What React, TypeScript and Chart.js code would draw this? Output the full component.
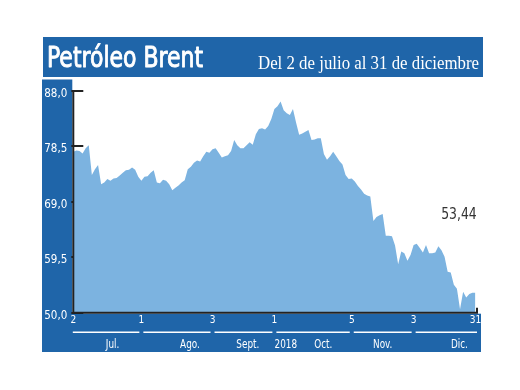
import React, { useEffect, useRef } from "react";
import { Chart, registerables } from "chart.js";

Chart.register(...registerables);

// ---------- data ----------
function tradingDays(start: string, end: string): string[] {
  const out: string[] = [];
  const d = new Date(start + "T00:00:00Z");
  const e = new Date(end + "T00:00:00Z");
  while (d <= e) {
    const wd = d.getUTCDay();
    if (wd !== 0 && wd !== 6) out.push(d.toISOString().slice(0, 10));
    d.setUTCDate(d.getUTCDate() + 1);
  }
  return out;
}
const dates = tradingDays("2018-07-02", "2018-12-31");

const brent = [
  77.6, 77.8, 77.7, 77.3, 78.2, 78.7, 73.6, 74.6, 75.3, 72.0,
  72.3, 72.9, 72.6, 73.0, 73.1, 73.5, 74.0, 74.4, 74.5, 74.9,
  74.5, 73.3, 72.6, 73.3, 73.4, 74.0, 74.4, 72.3, 72.2, 72.8,
  72.6, 72.0, 71.0, 71.4, 71.8, 72.3, 72.7, 74.6, 75.0, 75.7,
  76.1, 75.9, 76.8, 77.6, 77.4, 78.0, 78.2, 77.4, 76.6, 76.8,
  77.0, 77.7, 79.6, 78.7, 78.2, 78.2, 78.7, 79.2, 78.8, 80.6,
  81.5, 81.6, 81.4, 82.0, 83.2, 84.9, 85.4, 86.2, 84.7, 84.2,
  83.9, 84.9, 82.6, 80.5, 80.7, 81.0, 81.3, 79.6, 79.7, 79.9,
  79.9, 77.2, 76.2, 76.8, 77.6, 76.8, 76.0, 75.4, 73.6, 72.9,
  73.0, 72.5, 71.7, 71.1, 70.4, 70.1, 69.9, 65.7, 66.4, 66.7,
  66.9, 63.2, 63.2, 63.1, 61.5, 58.3, 60.5, 60.2, 58.9, 59.9,
  61.6, 61.8, 61.1, 60.3, 61.6, 60.2, 60.2, 60.3, 61.4, 60.7,
  59.6, 57.0, 56.9, 54.8, 54.1, 50.6, 53.6, 52.6, 53.2, 53.4,
  53.44,
];

const yMin = 50;
const yMax = 89.89;
const yTicks = [50, 59.5, 69, 78.5, 88];

const xTickDates = ["2018-07-02", "2018-08-01", "2018-09-03", "2018-10-01", "2018-11-05", "2018-12-03", "2018-12-31"];
const xTickLabels = ["2", "1", "3", "1", "5", "3", "31"];
const xTickIdx = xTickDates.map((d) => dates.indexOf(d));

const monthLabels = ["Jul.", "Ago.", "Sept.", "2018", "Oct.", "Nov.", "Dic."];
const monthLabelPos = [12.7, 37.7, 56.4, 68.7, 80.8, 100, 124.8];

const titleText = "Petróleo Brent";
const subtitleText = "Del 2 de julio al 31 de diciembre";
const lastValueLabel = "53,44";

// ---------- styles ----------
const BLUE = "#1f65a9";
const FILL = "#7cb3e0";
const AXIS = "#222222";
const COND = "'DejaVu Sans Condensed', 'DejaVu Sans', sans-serif";

function drawFitted(
  ctx: CanvasRenderingContext2D,
  text: string,
  font: string,
  x: number,
  y: number,
  width: number,
  align: "left" | "right" | "center",
  strokeW = 0
) {
  ctx.save();
  ctx.font = font;
  const w = ctx.measureText(text).width;
  const sx = width / w;
  let x0 = x;
  if (align === "right") x0 = x - width;
  if (align === "center") x0 = x - width / 2;
  ctx.translate(x0, y);
  ctx.scale(sx, 1);
  ctx.textAlign = "left";
  ctx.textBaseline = "alphabetic";
  ctx.fillText(text, 0, 0);
  if (strokeW > 0) {
    ctx.strokeStyle = ctx.fillStyle as string;
    ctx.lineWidth = strokeW;
    ctx.lineJoin = "round";
    ctx.strokeText(text, 0, 0);
  }
  ctx.restore();
}

function drawScaled(
  ctx: CanvasRenderingContext2D,
  text: string,
  font: string,
  x: number,
  y: number,
  sx: number
) {
  ctx.save();
  ctx.font = font;
  ctx.translate(x, y);
  ctx.scale(sx, 1);
  ctx.textAlign = "center";
  ctx.textBaseline = "alphabetic";
  ctx.fillText(text, 0, 0);
  ctx.restore();
}

const framePlugin = {
  id: "brentFrame",
  beforeDraw(chart: any) {
    const ctx: CanvasRenderingContext2D = chart.ctx;
    const a = chart.chartArea;
    ctx.save();
    ctx.fillStyle = "#ffffff";
    ctx.fillRect(0, 0, chart.width, chart.height);
    ctx.fillStyle = BLUE;
    // title bar
    ctx.fillRect(43, 37, 440, 40);
    // left column
    ctx.fillRect(42, a.top - 0.5, a.left - 42 - 1, 352 - a.top + 0.5);
    // bottom band
    ctx.fillRect(42, a.bottom + 1, a.right + 5.5 - 42, 352 - a.bottom - 1);
    ctx.fillStyle = "#ffffff";
    drawFitted(ctx, titleText, `29px ${COND}`, 47, 67, 156, "left", 0.9);
    drawFitted(ctx, subtitleText, "18px 'Liberation Serif', serif", 479, 68.5, 221, "right");
    ctx.restore();
  },
  beforeDatasetsDraw(chart: any) {
    const ctx: CanvasRenderingContext2D = chart.ctx;
    const a = chart.chartArea;
    const y = chart.scales.y;
    ctx.save();
    ctx.strokeStyle = AXIS;
    ctx.lineWidth = 2;
    yTicks.forEach((v) => {
      const py = Math.round(y.getPixelForValue(v));
      ctx.beginPath();
      ctx.moveTo(a.left - 2, py);
      ctx.lineTo(a.left + 10, py);
      ctx.stroke();
    });
    ctx.restore();
  },
  afterDatasetsDraw(chart: any) {
    const ctx: CanvasRenderingContext2D = chart.ctx;
    const a = chart.chartArea;
    const x = chart.scales.x;
    const y = chart.scales.y;
    ctx.save();
    // axis lines
    ctx.strokeStyle = AXIS;
    ctx.lineWidth = 2;
    const topY = y.getPixelForValue(yTicks[yTicks.length - 1]) - 1;
    ctx.beginPath();
    ctx.moveTo(a.left, topY);
    ctx.lineTo(a.left, a.bottom + 1);
    ctx.moveTo(a.left - 1, a.bottom);
    ctx.lineTo(a.right + 2.5, a.bottom);
    ctx.moveTo(a.right + 1.5, a.bottom);
    ctx.lineTo(a.right + 1.5, a.bottom - 5);
    ctx.stroke();

    // underline segments between ticks
    ctx.strokeStyle = "#ffffff";
    ctx.lineWidth = 1.5;
    const uy = a.bottom + 19.5;
    for (let i = 0; i < xTickIdx.length - 1; i++) {
      const x0 = x.getPixelForValue(xTickIdx[i]) + (i === 0 ? -0.5 : 2);
      const x1 = x.getPixelForValue(xTickIdx[i + 1]) + (i === xTickIdx.length - 2 ? 1.5 : -2);
      ctx.beginPath();
      ctx.moveTo(x0, uy);
      ctx.lineTo(x1, uy);
      ctx.stroke();
    }

    // month labels
    ctx.fillStyle = "#ffffff";
    monthLabels.forEach((t, i) => {
      drawScaled(ctx, t, `12px ${COND}`, x.getPixelForValue(monthLabelPos[i]), a.bottom + 35.5, 0.82);
    });

    // last value label
    ctx.fillStyle = "#333333";
    const lx = x.getPixelForValue(brent.length - 1) + 1.2;
    drawFitted(ctx, lastValueLabel, `16.5px ${COND}`, lx, a.top + 139.3, 35.5, "right");
    ctx.restore();
  },
};

export default function App() {
  const ref = useRef<HTMLCanvasElement | null>(null);
  useEffect(() => {
    if (!ref.current) return;
    const chart = new Chart(ref.current, {
      type: "line",
      data: {
        labels: dates,
        datasets: [
          {
            data: brent,
            fill: "start",
            backgroundColor: FILL,
            borderWidth: 0,
            borderColor: FILL,
            pointRadius: 0,
            tension: 0,
          },
        ],
      },
      options: {
        animation: false,
        responsive: false,
        devicePixelRatio: 1,
        events: [],
        layout: { padding: { left: 42, right: 44.5, top: 80, bottom: 38 } },
        plugins: { legend: { display: false }, tooltip: { enabled: false }, title: { display: false } },
        scales: {
          x: {
            type: "category",
            afterBuildTicks: (s: any) => {
              s.ticks = xTickIdx.map((v) => ({ value: v }));
            },
            afterFit: (s: any) => {
              s.height = 39.3;
            },
            grid: { display: false, drawTicks: false },
            border: { display: false },
            ticks: {
              autoSkip: false,
              maxRotation: 0,
              minRotation: 0,
              color: "#ffffff",
              padding: 1.5,
              font: { family: COND, size: 10 },
              callback: (_v: any, i: number) => xTickLabels[i],
            },
          },
          y: {
            min: yMin,
            max: yMax,
            afterBuildTicks: (s: any) => {
              s.ticks = yTicks.map((v) => ({ value: v }));
            },
            afterFit: (s: any) => {
              s.width = 31.3;
            },
            grid: { display: false, drawTicks: false },
            border: { display: false },
            ticks: {
              color: "#ffffff",
              padding: 6,
              labelOffset: 3,
              font: { family: COND, size: 11.5 },
              callback: (v: any) => Number(v).toFixed(1).replace(".", ","),
            },
          },
        },
      },
      plugins: [framePlugin],
    });
    return () => chart.destroy();
  }, []);
  return (
    <div style={{ position: "fixed", left: 0, top: 0, width: 520, height: 390, background: "#fff" }}>
      <canvas ref={ref} width={520} height={390} style={{ display: "block", width: 520, height: 390 }} />
    </div>
  );
}
